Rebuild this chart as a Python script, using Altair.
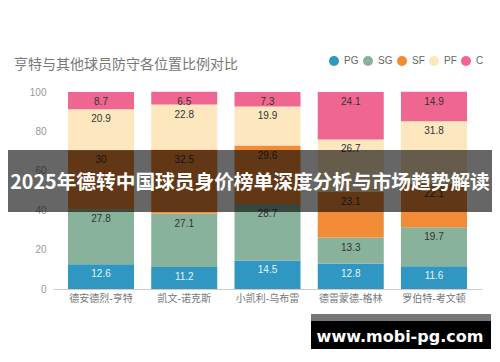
import altair as alt
import pandas as pd

players = ["德安德烈-亨特", "凯文-诺克斯", "小凯利-乌布雷", "德雷蒙德-格林", "罗伯特-考文顿"]
positions = ["PG", "SG", "SF", "PF", "C"]
pg = [12.6, 11.2, 14.5, 12.8, 11.6]
sg = [27.8, 27.1, 28.7, 13.3, 19.7]
sf = [30.0, 32.5, 29.6, 23.1, 22.1]
pf = [20.9, 22.8, 19.9, 26.7, 31.8]
c = [8.7, 6.5, 7.3, 24.1, 14.9]
y_ticks = [0, 20, 40, 60, 80, 100]
colors = ["#2F97C1", "#88B29C", "#F28B36", "#FCE7BF", "#EF6791"]
title_text = "亨特与其他球员防守各位置比例对比"
banner_text = "2025年德转中国球员身价榜单深度分析与市场趋势解读"
watermark_text = "www.mobi-pg.com"

series = {"PG": pg, "SG": sg, "SF": sf, "PF": pf, "C": c}
rows = []
for k, pos in enumerate(positions):
    for i, p in enumerate(players):
        rows.append({"player": p, "pos": pos, "order": k, "value": series[pos][i],
                     "light": pos == "PG"})
df = pd.DataFrame(rows)

FONT = "Liberation Sans, Noto Sans CJK SC, sans-serif"

base = alt.Chart(df).transform_stack(
    stack="value", as_=["v0", "v1"], groupby=["player"],
    sort=[alt.SortField("order", order="ascending")]
)

xaxis = alt.Axis(labelAngle=0, ticks=False, domainColor="#cccccc",
                 labelColor="#777777", labelFontSize=10, labelPadding=4,
                 labelFont=FONT)
yaxis = alt.Axis(values=y_ticks, grid=False, domain=False,
                 ticks=False, labelColor="#999999", labelFontSize=10,
                 labelPadding=7, labelFont=FONT, labelOverlap=False,
                 labelFlush=False)
xscale = alt.Scale(paddingInner=0.207, paddingOuter=0.18)
yscale = alt.Scale(domain=[0, 100], nice=False)

bars = base.mark_bar().encode(
    x=alt.X("player:N", sort=players, title=None, scale=xscale, axis=xaxis),
    y=alt.Y("v0:Q", scale=yscale, title=None, axis=yaxis),
    y2="v1:Q",
    color=alt.Color("pos:N", sort=positions,
                    scale=alt.Scale(domain=positions, range=colors),
                    legend=alt.Legend(title=None, orient="none", direction="horizontal",
                                      legendX=276, legendY=-36, symbolType="circle",
                                      symbolSize=100, symbolStrokeWidth=0,
                                      labelFontSize=10, labelColor="#666666",
                                      labelFont=FONT, columnPadding=4, labelOffset=5)),
)

labels = base.mark_text(fontSize=10, baseline="middle", dy=10, font=FONT).encode(
    x=alt.X("player:N", sort=players, title=None, scale=xscale, axis=xaxis),
    y=alt.Y("v1:Q", scale=yscale, title=None, axis=yaxis),
    text=alt.Text("value:Q"),
    color=alt.condition("datum.light", alt.value("#e6f3f8"), alt.value("#333333")),
)

title = alt.Chart(pd.DataFrame({"t": [title_text]})).mark_text(
    color="#777777", fontSize=14, font="Noto Sans CJK SC", align="left",
    baseline="middle"
).encode(x=alt.value(-39), y=alt.value(-27), text="t:N")

banner_bg = alt.Chart(pd.DataFrame({"t": [banner_text]})).mark_rect(
    color="#000000", opacity=0.6
).encode(x=alt.value(-47), x2=alt.value(441), y=alt.value(58), y2=alt.value(120))

banner = alt.Chart(pd.DataFrame({"t": [banner_text]})).mark_text(
    color="white", fontSize=19.7, fontWeight="bold", font="Noto Sans CJK SC",
    align="center", baseline="middle"
).encode(x=alt.value(197), y=alt.value(91), text="t:N")

wm_gray = alt.Chart(pd.DataFrame({"t": [watermark_text]})).mark_rect(
    color="#777777"
).encode(x=alt.value(258), x2=alt.value(438), y=alt.value(222), y2=alt.value(229))

wm_black = alt.Chart(pd.DataFrame({"t": [watermark_text]})).mark_rect(
    color="#000000"
).encode(x=alt.value(258), x2=alt.value(438), y=alt.value(229), y2=alt.value(261))

wm_text = alt.Chart(pd.DataFrame({"t": [watermark_text]})).mark_text(
    color="white", fontSize=16, fontWeight="bold", font="DejaVu Sans",
    align="center", baseline="middle"
).encode(x=alt.value(347), y=alt.value(245), text="t:N")

chart = alt.layer(bars, labels, title, banner_bg, banner, wm_gray, wm_black, wm_text).properties(
    width=429, height=197,
    autosize=alt.AutoSizeParams(type="none"),
    padding={"left": 45, "top": 84, "right": 10, "bottom": 60},
    background="white",
).configure_view(stroke=None).configure_axisY(labelOverlap=False)

chart.save("out.html", embed_options={"renderer": "svg", "actions": False})
